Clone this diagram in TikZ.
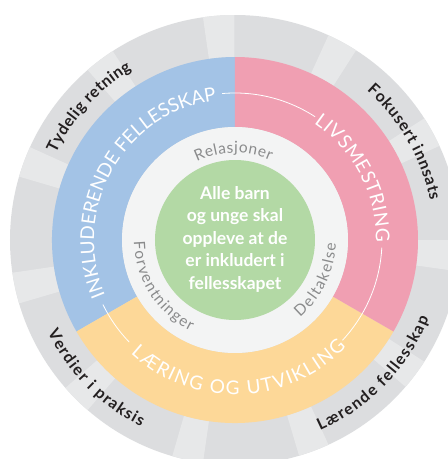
\documentclass[tikz,border=0pt]{standalone}
\usepackage{fontspec}
\setmainfont{Lato}
\usetikzlibrary{decorations.text}
\definecolor{ringdark}{HTML}{DCDDDF}
\definecolor{ringlight}{HTML}{E7E8E9}
\definecolor{secblue}{HTML}{A3C3E6}
\definecolor{secpink}{HTML}{F09FB2}
\definecolor{secorange}{HTML}{FDD898}
\definecolor{coregreen}{HTML}{B3D9A5}
\definecolor{innerring}{HTML}{F3F4F4}
\definecolor{innertext}{HTML}{8A8B8C}
\definecolor{labeltext}{HTML}{231F20}
\newcommand{\secfont}{\fontsize{19}{19}\selectfont\color{white}}
\newcommand{\lblfont}{\fontsize{16}{16}\selectfont\bfseries\color{labeltext}}
\newcommand{\innfont}{\fontsize{15.5}{15.5}\selectfont\color{innertext}}
\newcommand{\annsector}[5]{\fill[#1] (#4:#2) arc[start angle=#4,end angle=#5,radius=#2] -- (#5:#3) arc[start angle=#5,end angle=#4,radius=#3] -- cycle;}
\tikzset{
  joinarc/.style={draw=white, line width=0.8pt},
  fittext/.style={decorate, decoration={text along path, text align=fit to path, text={#1}}}
}
\begin{document}
\begin{tikzpicture}[x=1pt,y=1pt]
\useasboundingbox (-235,-219) rectangle (213,240);
\fill[white] (-235,-219) rectangle (213,240);
\clip (-235,-219) rectangle (213,240);
% outer grey ring
\fill[ringdark] (0,0) circle[radius=225pt];
\foreach \k in {0,...,10}{
  \pgfmathsetmacro{\ea}{\k*32.7273}
  \pgfmathsetmacro{\sa}{\ea-8}
  \annsector{ringlight}{183pt}{225pt}{\sa}{\ea}
}
% coloured sectors
\annsector{secblue}{113pt}{183pt}{90}{210}
\annsector{secorange}{113pt}{183pt}{210}{330}
\annsector{secpink}{113pt}{183pt}{330}{450}
% inner rings
\fill[innerring] (0,0) circle[radius=113pt];
\fill[coregreen] (0,0) circle[radius=80pt];
% centre text
\node[text=white, font=\fontsize{17.5}{22.5}\selectfont\bfseries, align=center] (core) at (0,1)
  {Alle barn\\og unge skal\\oppleve at de\\er inkludert i\\fellesskapet};
% white joining arcs
\draw[joinarc] (95:147pt) arc[start angle=95, end angle=57, radius=147pt];
\draw[joinarc] (-3:147pt) arc[start angle=-3, end angle=-43, radius=147pt];
\draw[joinarc] (206:147pt) arc[start angle=206, end angle=224, radius=147pt];
% sector titles
\path[fittext={|\secfont|INKLUDERENDE FELLESSKAP}] (203:141pt) arc[start angle=203, end angle=97.5, radius=141pt];
\path[fittext={|\secfont|LIVSMESTRING}] (56:141pt) arc[start angle=56, end angle=-1, radius=141pt];
\path[fittext={|\secfont|LÆRING OG UTVIKLING}] (227.5:154.5pt) arc[start angle=227.5, end angle=316, radius=154.5pt];
% outer labels
\path[fittext={|\lblfont|Tydelig retning}] (154.2:199pt) arc[start angle=154.2, end angle=121.2, radius=199pt];
\path[fittext={|\lblfont|Fokusert innsats}] (48.5:199pt) arc[start angle=48.5, end angle=11.5, radius=199pt];
\path[fittext={|\lblfont|Lærende fellesskap}] (294:209pt) arc[start angle=294, end angle=338, radius=209pt];
\path[fittext={|\lblfont|Verdier i praksis}] (206.3:209pt) arc[start angle=206.3, end angle=243.3, radius=209pt];
% inner labels
\path[fittext={|\innfont|Relasjoner}] (116:87pt) arc[start angle=116, end angle=66, radius=87pt];
\path[fittext={|\innfont|Forventninger}] (181:101pt) arc[start angle=181, end angle=244, radius=101pt];
\path[fittext={|\innfont|Deltakelse}] (310:101pt) arc[start angle=310, end angle=358, radius=101pt];
\end{tikzpicture}
\end{document}
